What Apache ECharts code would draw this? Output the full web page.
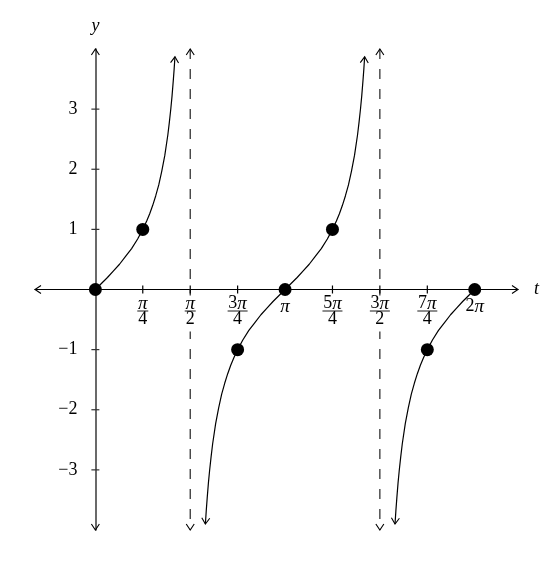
<!DOCTYPE html>
<html>
<head>
<meta charset="utf-8">
<script src="https://cdn.jsdelivr.net/npm/echarts@6/dist/echarts.min.js"></script>
<style>
html,body{margin:0;padding:0;background:#fff;}
#chart{width:555px;height:564px;}
</style>
</head>
<body>
<div id="chart"></div>
<script>
// ---- data (t in radians) ----
const branch1 = [[0,0],[0.1,0.10],[0.2,0.20],[0.3,0.31],[0.4,0.42],[0.5,0.55],[0.6,0.68],[0.7,0.84],[0.785,1.00],[0.85,1.14],[0.9,1.26],[0.95,1.40],[1.0,1.56],[1.05,1.74],[1.1,1.97],[1.15,2.23],[1.2,2.57],[1.225,2.78],[1.25,3.01],[1.27,3.22],[1.29,3.47],[1.305,3.67],[1.318,3.87]];
const branch2 = [[1.822,-3.90],[1.837,-3.67],[1.852,-3.47],[1.872,-3.22],[1.892,-3.01],[1.917,-2.78],[1.942,-2.57],[1.992,-2.23],[2.042,-1.97],[2.092,-1.74],[2.142,-1.56],[2.192,-1.40],[2.242,-1.26],[2.292,-1.14],[2.356,-1.00],[2.442,-0.84],[2.542,-0.68],[2.642,-0.55],[2.742,-0.42],[2.842,-0.31],[2.942,-0.20],[3.042,-0.10],[3.142,0],[3.242,0.10],[3.342,0.20],[3.442,0.31],[3.542,0.42],[3.642,0.55],[3.742,0.68],[3.842,0.84],[3.927,1.00],[3.992,1.14],[4.042,1.26],[4.092,1.40],[4.142,1.56],[4.192,1.74],[4.242,1.97],[4.292,2.23],[4.342,2.57],[4.367,2.78],[4.392,3.01],[4.412,3.22],[4.432,3.47],[4.447,3.67],[4.460,3.87]];
const branch3 = [[4.963,-3.90],[4.978,-3.67],[4.993,-3.47],[5.013,-3.22],[5.033,-3.01],[5.058,-2.78],[5.083,-2.57],[5.133,-2.23],[5.183,-1.97],[5.233,-1.74],[5.283,-1.56],[5.333,-1.40],[5.383,-1.26],[5.433,-1.14],[5.498,-1.00],[5.583,-0.84],[5.683,-0.68],[5.783,-0.55],[5.883,-0.42],[5.983,-0.31],[6.083,-0.20],[6.183,-0.10],[6.283,0]];
const keyPoints = [[0,0],[0.785,1],[2.356,-1],[3.142,0],[3.927,1],[5.498,-1],[6.283,0]];
const asymptotes = [1.571, 4.712];
const xRange = [-1, 7];
const yRange = [-4, 4];
const xTickValues = [0.785, 1.571, 2.356, 3.142, 3.927, 4.712, 5.498, 6.283];
const xTickNum = ['π', 'π', '3π', 'π', '5π', '3π', '7π', '2π'];
const xTickDen = ['4', '2', '4', '', '4', '2', '4', ''];
const yTickValues = [-3, -2, -1, 1, 2, 3];
const yTickLabels = ['−3', '−2', '−1', '1', '2', '3'];
// arrow heads: [tipX, tipY, fromX, fromY]
const arrowHeads = [
  [7, 0, 6.9, 0], [-1, 0, -0.9, 0], [0, 4, 0, 3.9], [0, -4, 0, -3.9],
  [1.571, 4, 1.571, 3.9], [1.571, -4, 1.571, -3.9],
  [4.712, 4, 4.712, 3.9], [4.712, -4, 4.712, -3.9],
  [1.318, 3.87, 1.305, 3.67], [4.460, 3.87, 4.447, 3.67],
  [1.822, -3.90, 1.837, -3.67], [4.963, -3.90, 4.978, -3.67]
];

const FONT = '"Liberation Serif", "DejaVu Serif", serif';

function mathRich(s) {
  return s.replace(/π/g, '{p|π}').replace(/(\d+)/g, '{d|$1}');
}

const chart = echarts.init(document.getElementById('chart'), null, {renderer: 'canvas'});

const curveStyle = {color: '#000', width: 1.2};

const option = {
  animation: false,
  backgroundColor: '#fff',
  grid: {left: 35, right: 37, top: 49, bottom: 34, containLabel: false, outerBoundsMode: 'none'},
  xAxis: {
    type: 'value', min: xRange[0], max: xRange[1],
    name: 't', nameLocation: 'end', nameGap: 16,
    nameTextStyle: {fontFamily: FONT, fontStyle: 'italic', fontSize: 18, color: '#000', verticalAlign: 'middle'},
    axisLine: {show: true, onZero: true, lineStyle: {color: '#000', width: 1}},
    axisTick: {show: false}, axisLabel: {show: false}, splitLine: {show: false}
  },
  yAxis: {
    type: 'value', min: yRange[0], max: yRange[1], interval: 1,
    name: 'y', nameLocation: 'end', nameGap: 14,
    nameTextStyle: {fontFamily: FONT, fontStyle: 'italic', fontSize: 18, color: '#000'},
    axisLine: {show: true, onZero: true, lineStyle: {color: '#444', width: 1.6}},
    axisTick: {show: false}, axisLabel: {show: false},
    splitLine: {show: false}
  },
  series: [
    {type: 'line', data: branch1, smooth: false, showSymbol: false, lineStyle: curveStyle, z: 3},
    {type: 'line', data: branch2, smooth: false, showSymbol: false, lineStyle: curveStyle, z: 3},
    {type: 'line', data: branch3, smooth: false, showSymbol: false, lineStyle: curveStyle, z: 3},
    {type: 'line', data: asymptotes.flatMap(a => [[a, yRange[1]], [a, yRange[0]], [null, null]]),
      connectNulls: false, showSymbol: false, lineStyle: {color: '#222', width: 1.2, type: [10, 10]}, z: 1},
    {type: 'custom', coordinateSystem: 'cartesian2d', data: xTickValues.map(v => [v, 0]).concat(yTickValues.map(v => [0, v])),
      silent: true, z: 4,
      renderItem: function (params, api) {
        const p = api.coord([api.value(0), api.value(1)]);
        const isX = params.dataIndex < xTickValues.length;
        const shape = isX ? {x1: p[0], y1: p[1] - 4, x2: p[0], y2: p[1] + 4} : {x1: p[0] - 4, y1: p[1], x2: p[0] + 4, y2: p[1]};
        return {type: 'line', shape: shape, style: {stroke: isX ? '#000' : '#333', lineWidth: 1.2}};
      }
    },
    // y tick labels
    {type: 'custom', coordinateSystem: 'cartesian2d', data: yTickValues.map(v => [0, v]), silent: true, z: 4,
      renderItem: function (params, api) {
        const p = api.coord([0, api.value(1)]);
        return {type: 'text', x: p[0] - 18, y: p[1], style: {text: yTickLabels[params.dataIndex], fontFamily: FONT, fontSize: 18, fill: '#000', align: 'right', verticalAlign: 'middle'}};
      }
    },
    // x tick labels
    {type: 'custom', coordinateSystem: 'cartesian2d', data: xTickValues.map(v => [v, 0]), silent: true, z: 2,
      renderItem: function (params, api) {
        const i = params.dataIndex;
        const p = api.coord([api.value(0), 0]);
        const rich = {d: {fontFamily: FONT, fontSize: 18, color: '#000'}, p: {fontFamily: FONT, fontSize: 19, fontStyle: 'italic', color: '#000'}};
        if (!xTickDen[i]) {
          return {type: 'text', x: p[0], y: p[1] + 17, style: {text: mathRich(xTickNum[i]), rich: rich, align: 'center', verticalAlign: 'middle'}};
        }
        const barW = xTickNum[i].length > 1 ? 20 : 11;
        return {type: 'group', children: [
          {type: 'rect', shape: {x: p[0] - barW / 2 - 2, y: p[1] + 6, width: barW + 4, height: 36}, style: {fill: '#fff'}},
          {type: 'text', x: p[0], y: p[1] + 14, style: {text: mathRich(xTickNum[i]), rich: rich, align: 'center', verticalAlign: 'middle'}},
          {type: 'line', shape: {x1: p[0] - barW / 2, y1: p[1] + 21.5, x2: p[0] + barW / 2, y2: p[1] + 21.5}, style: {stroke: '#000', lineWidth: 0.9}},
          {type: 'text', x: p[0], y: p[1] + 30, style: {text: mathRich(xTickDen[i]), rich: rich, align: 'center', verticalAlign: 'middle'}}
        ]};
      }
    },
    {type: 'scatter', data: keyPoints, symbol: 'circle', symbolSize: 13, itemStyle: {color: '#000', opacity: 1}, z: 6},
    {type: 'custom', coordinateSystem: 'cartesian2d', data: arrowHeads, silent: true, z: 7,
      renderItem: function (params, api) {
        const tip = api.coord([api.value(0), api.value(1)]);
        const from = api.coord([api.value(2), api.value(3)]);
        const ang = Math.atan2(tip[1] - from[1], tip[0] - from[0]);
        const L = 6, W = 4;
        const bx = tip[0] - L * Math.cos(ang), by = tip[1] - L * Math.sin(ang);
        const p1 = [bx + W * Math.sin(ang), by - W * Math.cos(ang)];
        const p2 = [bx - W * Math.sin(ang), by + W * Math.cos(ang)];
        return {type: 'polyline', shape: {points: [p1, [tip[0], tip[1]], p2]}, style: {stroke: '#000', fill: null, lineWidth: 1.1}};
      }
    }
  ]
};
chart.setOption(option);
</script>
</body>
</html>
